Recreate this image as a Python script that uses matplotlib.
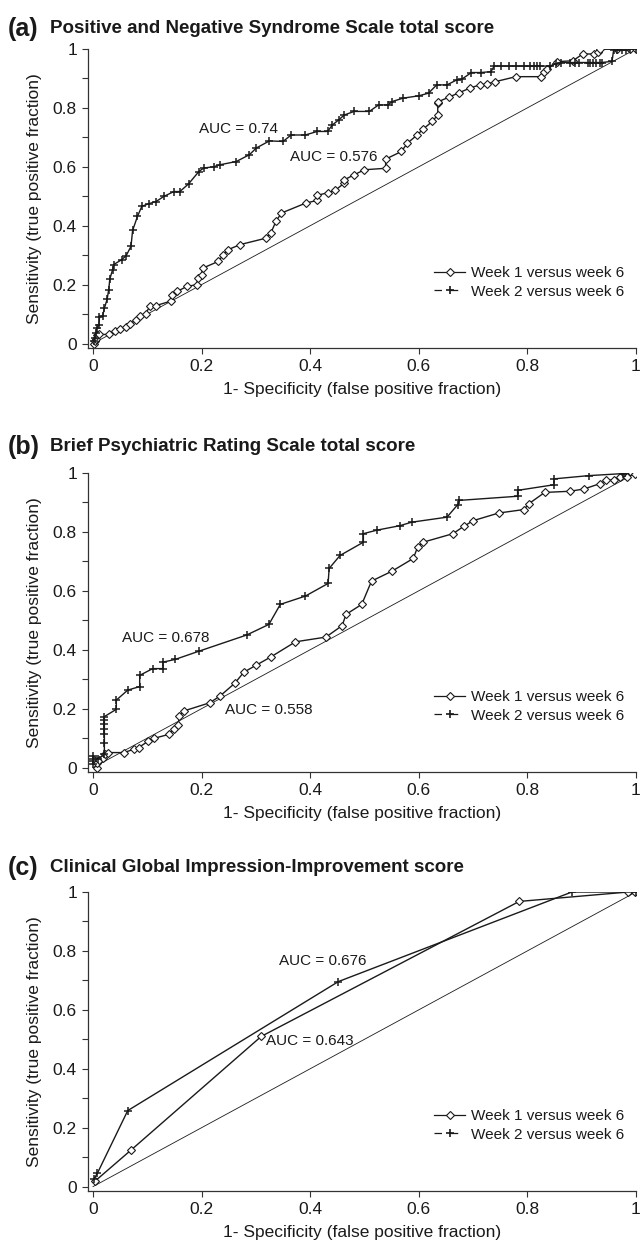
import matplotlib
matplotlib.use("Agg")
import matplotlib.pyplot as plt
from matplotlib.lines import Line2D
import numpy as np

plt.rcParams['font.family'] = ['Liberation Sans', 'DejaVu Sans']

# ---- data ----
# (a) PANSS total score
a_w1_x = [0.002, 0.003, 0.006, 0.008, 0.012, 0.030, 0.040, 0.050, 0.060, 0.069, 0.079, 0.087,
          0.097, 0.105, 0.116, 0.143, 0.146, 0.155, 0.173, 0.191, 0.193, 0.200, 0.202, 0.231,
          0.240, 0.249, 0.271, 0.319, 0.328, 0.337, 0.347, 0.392, 0.413, 0.413, 0.432, 0.446,
          0.463, 0.463, 0.481, 0.500, 0.539, 0.539, 0.568, 0.579, 0.597, 0.608, 0.625, 0.635,
          0.635, 0.636, 0.655, 0.675, 0.694, 0.712, 0.725, 0.741, 0.779, 0.826, 0.831, 0.837,
          0.855, 0.884, 0.902, 0.922, 0.931, 0.933, 0.965, 0.990, 1.000]
a_w1_y = [0.000, 0.008, 0.014, 0.030, 0.031, 0.031, 0.042, 0.050, 0.056, 0.067, 0.081, 0.095,
          0.102, 0.127, 0.129, 0.144, 0.166, 0.177, 0.194, 0.200, 0.223, 0.234, 0.256, 0.279,
          0.302, 0.319, 0.336, 0.358, 0.377, 0.415, 0.443, 0.477, 0.486, 0.503, 0.512, 0.520,
          0.545, 0.556, 0.573, 0.590, 0.595, 0.626, 0.652, 0.680, 0.708, 0.728, 0.754, 0.776,
          0.816, 0.821, 0.836, 0.852, 0.867, 0.878, 0.881, 0.889, 0.906, 0.906, 0.923, 0.931,
          0.957, 0.960, 0.983, 0.983, 0.991, 0.999, 0.999, 1.000, 1.000]
a_w2_x = [0.002, 0.003, 0.005, 0.007, 0.011, 0.012, 0.018, 0.021, 0.026, 0.029, 0.031, 0.036,
          0.038, 0.053, 0.061, 0.070, 0.073, 0.082, 0.090, 0.103, 0.116, 0.131, 0.149, 0.160,
          0.176, 0.195, 0.204, 0.222, 0.234, 0.264, 0.288, 0.301, 0.325, 0.350, 0.365, 0.391,
          0.413, 0.432, 0.441, 0.453, 0.463, 0.481, 0.509, 0.526, 0.544, 0.550, 0.571, 0.600,
          0.618, 0.633, 0.652, 0.670, 0.679, 0.697, 0.714, 0.733, 0.739, 0.752, 0.767, 0.779,
          0.794, 0.805, 0.812, 0.818, 0.823, 0.841, 0.853, 0.862, 0.878, 0.887, 0.896, 0.911,
          0.916, 0.921, 0.927, 0.933, 0.937, 0.956, 0.959, 0.965, 0.975, 0.982, 0.990, 1.000]
a_w2_y = [0.008, 0.020, 0.035, 0.053, 0.064, 0.090, 0.095, 0.120, 0.150, 0.183, 0.219, 0.250,
          0.268, 0.285, 0.298, 0.330, 0.384, 0.432, 0.466, 0.475, 0.482, 0.500, 0.516, 0.516,
          0.542, 0.584, 0.596, 0.600, 0.607, 0.618, 0.641, 0.664, 0.688, 0.686, 0.708, 0.708,
          0.720, 0.720, 0.742, 0.760, 0.776, 0.788, 0.788, 0.810, 0.810, 0.821, 0.833, 0.841,
          0.850, 0.878, 0.878, 0.895, 0.897, 0.920, 0.920, 0.923, 0.942, 0.942, 0.942, 0.942,
          0.942, 0.942, 0.942, 0.942, 0.942, 0.942, 0.950, 0.954, 0.954, 0.954, 0.954, 0.954,
          0.954, 0.954, 0.954, 0.954, 0.954, 0.958, 0.997, 0.997, 0.998, 0.998, 0.999, 1.000]

# (b) BPRS total score
b_w1_x = [0.008, 0.008, 0.011, 0.019, 0.023, 0.027, 0.057, 0.075, 0.084, 0.102, 0.112, 0.140,
          0.149, 0.157, 0.159, 0.167, 0.215, 0.234, 0.261, 0.278, 0.300, 0.327, 0.373, 0.429,
          0.459, 0.466, 0.495, 0.513, 0.551, 0.590, 0.598, 0.608, 0.663, 0.683, 0.700, 0.747,
          0.794, 0.803, 0.832, 0.879, 0.905, 0.934, 0.945, 0.960, 0.970, 0.980, 0.983, 0.998]
b_w1_y = [0.000, 0.015, 0.026, 0.034, 0.045, 0.051, 0.051, 0.062, 0.068, 0.090, 0.099, 0.113,
          0.132, 0.144, 0.175, 0.192, 0.220, 0.243, 0.286, 0.324, 0.347, 0.375, 0.427, 0.443,
          0.482, 0.520, 0.554, 0.633, 0.667, 0.710, 0.749, 0.765, 0.794, 0.819, 0.838, 0.864,
          0.876, 0.896, 0.934, 0.938, 0.946, 0.964, 0.975, 0.977, 0.986, 0.997, 0.986, 0.998]
b_w2_x = [0.000, 0.000, 0.000, 0.000, 0.010, 0.021, 0.021, 0.021, 0.021, 0.021, 0.021, 0.021,
          0.043, 0.043, 0.064, 0.086, 0.086, 0.110, 0.129, 0.129, 0.151, 0.195, 0.283, 0.324,
          0.345, 0.391, 0.433, 0.435, 0.455, 0.498, 0.498, 0.523, 0.565, 0.587, 0.652, 0.672,
          0.675, 0.782, 0.782, 0.849, 0.849, 0.913, 0.977, 0.980]
b_w2_y = [0.012, 0.022, 0.030, 0.038, 0.030, 0.045, 0.085, 0.113, 0.132, 0.147, 0.160, 0.173,
          0.198, 0.229, 0.263, 0.275, 0.313, 0.336, 0.336, 0.358, 0.367, 0.395, 0.450, 0.486,
          0.554, 0.582, 0.625, 0.676, 0.720, 0.765, 0.794, 0.806, 0.821, 0.833, 0.850, 0.893,
          0.907, 0.921, 0.941, 0.960, 0.980, 0.991, 0.998, 1.000]

# (c) CGI-I score
c_w1_x = [0.004, 0.070, 0.310, 0.785, 0.986, 0.998]
c_w1_y = [0.019, 0.124, 0.510, 0.968, 1.000, 1.000]
c_w2_x = [0.0015, 0.008, 0.064, 0.452, 0.882, 1.000]
c_w2_y = [0.025, 0.045, 0.258, 0.696, 1.000, 1.000]

panels = [
    ("(a)", "Positive and Negative Syndrome Scale total score",
     a_w1_x, a_w1_y, a_w2_x, a_w2_y,
     [("AUC = 0.74", 0.195, 0.73), ("AUC = 0.576", 0.362, 0.632)]),
    ("(b)", "Brief Psychiatric Rating Scale total score",
     b_w1_x, b_w1_y, b_w2_x, b_w2_y,
     [("AUC = 0.678", 0.053, 0.44), ("AUC = 0.558", 0.244, 0.197)]),
    ("(c)", "Clinical Global Impression-Improvement score",
     c_w1_x, c_w1_y, c_w2_x, c_w2_y,
     [("AUC = 0.676", 0.343, 0.765), ("AUC = 0.643", 0.318, 0.493)]),
]

ink = '#1a1a1a'
fig = plt.figure(figsize=(6.43, 12.46), dpi=100)

bottoms = [0.7207, 0.3804, 0.0441]
title_y = [0.977, 0.6413, 0.3034]

for (tag, title, w1x, w1y, w2x, w2y, notes), bot, ty in zip(panels, bottoms, title_y):
    ax = fig.add_axes([0.137, bot, 0.852, 0.240])

    # chance diagonal
    ax.plot([0, 1], [0, 1], color=ink, lw=0.6)
    ax.plot(w1x, w1y, color=ink, lw=1.0, marker='D', ms=3.6,
            mfc='white', mec=ink, mew=0.8)
    ax.plot(w2x, w2y, color=ink, lw=1.0, marker='+', ms=5.5, mew=1.1)

    for txt, x, y in notes:
        ax.text(x, y, txt, fontsize=11, color=ink, va='center', ha='left')

    ax.set_xlim(-0.009, 1.0)
    ax.set_ylim(-0.015, 1.0)
    ax.spines['top'].set_visible(False)
    ax.spines['right'].set_visible(False)
    for s in ('left', 'bottom'):
        ax.spines[s].set_color('#333333')
        ax.spines[s].set_linewidth(0.9)

    ticks = [0, 0.2, 0.4, 0.6, 0.8, 1.0]
    labels = ['0', '0.2', '0.4', '0.6', '0.8', '1']
    ax.set_xticks(ticks)
    ax.set_xticklabels(labels)
    ax.set_yticks(ticks)
    ax.set_yticklabels(labels)
    ax.set_yticks([0.1, 0.3, 0.5, 0.7, 0.9], minor=True)
    ax.tick_params(axis='both', which='both', direction='out', length=4,
                   width=0.8, color='#333333', labelsize=12.5, labelcolor=ink, pad=4)

    ax.set_xlabel("1- Specificity (false positive fraction)", fontsize=12.5,
                  color=ink, labelpad=6)
    ax.set_ylabel("Sensitivity (true positive fraction)", fontsize=12.5,
                  color=ink, labelpad=8)

    handles = [
        Line2D([], [], color=ink, lw=0.9, marker='D', ms=4, mfc='white', mec=ink, mew=0.8),
        Line2D([], [], color=ink, lw=0.9, marker='+', ms=5.5, mew=1.2, linestyle=(0, (6, 7))),
    ]
    ax.legend(handles, ["Week 1 versus week 6", "Week 2 versus week 6"],
              loc='center right', bbox_to_anchor=(0.99, 0.22), frameon=False,
              fontsize=11, handlelength=2.0, handletextpad=0.4, labelspacing=0.3,
              borderaxespad=0, labelcolor=ink)

    fig.text(0.012, ty, tag, fontsize=18, fontweight='bold', color=ink, va='center')
    fig.text(0.078, ty, title, fontsize=13.5, fontweight='bold', color=ink, va='center')

fig.savefig("out.png", dpi=100)
